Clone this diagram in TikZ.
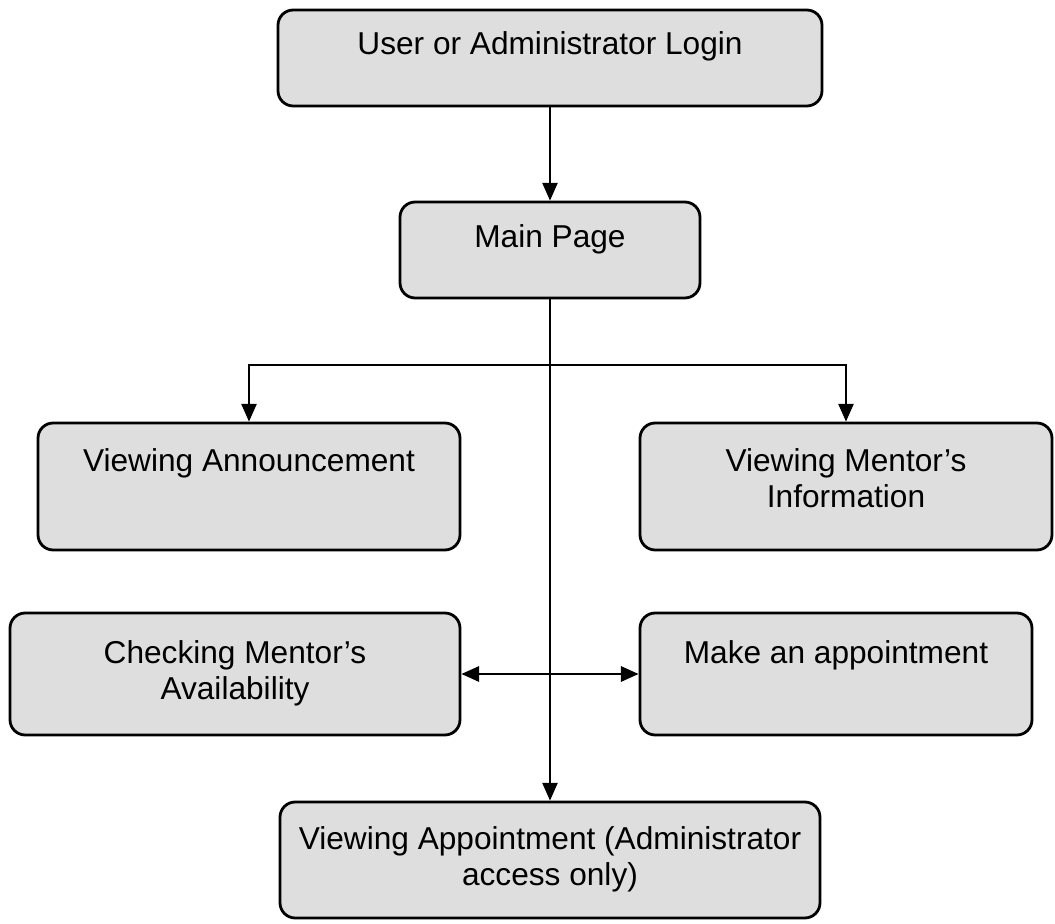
\documentclass[tikz,border=0pt]{standalone}
\usepackage{fontspec}
\setmainfont{Liberation Sans}
\usepackage{tikz}
\definecolor{speckle}{RGB}{222,222,222}
\usetikzlibrary{arrows.meta,fit}

\begin{document}
\begin{tikzpicture}[x=0.025cm,y=-0.025cm,
	pagebox/.style={draw=black,line width=2pt,rounded corners=0.38cm,fill=speckle,inner sep=0pt},
	pagetext/.style={anchor=north,align=center,inner sep=0pt,font=\fontsize{22.5}{25.5}\selectfont},
	flow/.style={line width=1pt,-{Triangle[length=0.44cm,width=0.38cm]}},
	twoway/.style={line width=1.5pt,{Triangle[length=0.44cm,width=0.38cm]}-{Triangle[length=0.44cm,width=0.38cm]}}]
\useasboundingbox (0,0) rectangle (1055,924);
\node[pagebox,fit={(278,10) (822,106)}] (login) {};
\node[pagetext] (logintext) at (550,31) {User or Administrator Login};
\node[pagebox,fit={(400,202) (700,298)}] (main) {};
\node[pagetext] (maintext) at (550,224) {Main Page};
\node[pagebox,fit={(38,423) (460,550)}] (announce) {};
\node[pagetext] (announcetext) at (249,448) {Viewing Announcement};
\node[pagebox,fit={(640,423) (1052,550)}] (mentor) {};
\node[pagetext] (mentortext) at (846,448) {Viewing Mentor's\\Information};
\node[pagebox,fit={(10,613) (460,735)}] (avail) {};
\node[pagetext] (availtext) at (235,640) {Checking Mentor's\\Availability};
\node[pagebox,fit={(640,613) (1032,735)}] (appoint) {};
\node[pagetext] (appointtext) at (836,640) {Make an appointment};
\node[pagebox,fit={(280,802) (820,918)}] (viewappt) {};
\node[pagetext] (viewappttext) at (550,826) {Viewing Appointment (Administrator\\access only)};
\coordinate (split) at (550,365);
\draw[flow] (login) -- (main);
\draw[flow] (main) -- (viewappt);
\draw[flow] (split) -| (announce.north);
\draw[flow] (split) -| (mentor.north);
\draw[twoway] (avail) -- (appoint);
\end{tikzpicture}
\end{document}
